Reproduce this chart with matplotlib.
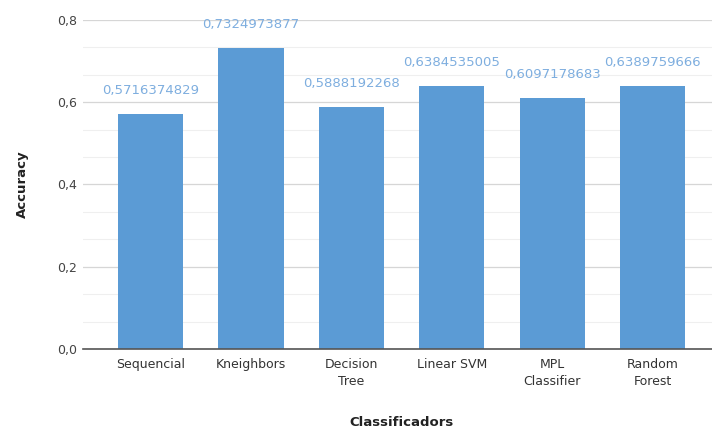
import matplotlib
matplotlib.use("Agg")
import matplotlib.pyplot as plt
from matplotlib.ticker import MultipleLocator, FuncFormatter

categories = ["Sequencial", "Kneighbors", "Decision\nTree", "Linear SVM", "MPL\nClassifier", "Random\nForest"]
accuracy = [0.5716374829, 0.7324973877, 0.5888192268, 0.6384535005, 0.6097178683, 0.6389759666]
value_labels = ["0,5716374829", "0,7324973877", "0,5888192268", "0,6384535005", "0,6097178683", "0,6389759666"]

plt.rcParams["font.family"] = ["DejaVu Sans"]

fig = plt.figure(figsize=(7.12, 4.30), dpi=100)
ax = fig.add_axes([83 / 712, 1 - 349 / 430, 1 - 83 / 712, (349 - 20) / 430])

bar_color = "#5b9bd5"
x = list(range(len(categories)))
ax.bar(x, accuracy, width=0.65, color=bar_color, zorder=3)

# value annotations above each bar
for xi, v, lab in zip(x, accuracy, value_labels):
    ax.annotate(lab, (xi, v), xytext=(0, 17), textcoords="offset points",
                ha="center", va="center", fontsize=9.5, color="#7eaedf")

ax.set_xlim(-0.672, 5.59)
ax.set_ylim(0, 0.8)
ax.yaxis.set_major_locator(MultipleLocator(0.2))
ax.yaxis.set_minor_locator(MultipleLocator(0.2 / 3))
ax.yaxis.set_major_formatter(FuncFormatter(lambda v, p: f"{v:.1f}".replace(".", ",")))

ax.grid(axis="y", which="major", color="#d6d6d6", linewidth=0.9, zorder=0)
ax.grid(axis="y", which="minor", color="#efefef", linewidth=0.8, zorder=0)
ax.axhline(0, color="#555555", linewidth=1.2, zorder=4, clip_on=False)

for s in ax.spines.values():
    s.set_visible(False)

ax.set_xticks(x)
ax.set_xticklabels(categories, fontsize=9, color="#333333", linespacing=1.35)
ax.tick_params(axis="x", length=0, pad=6.5)
ax.tick_params(axis="y", which="both", length=0, pad=4.5, labelsize=9, labelcolor="#444444")

ax.set_ylabel("Accuracy", fontsize=9.5, fontweight="bold", color="#222222", va="center")
ax.set_xlabel("Classificadors", fontsize=9.5, fontweight="bold", color="#222222", va="center")
ax.yaxis.set_label_coords((22 - 83) / 629, 0.5)
ax.xaxis.set_label_coords((401 - 83) / 629, (349 - 422) / 329)

fig.savefig("out.png", dpi=100)
